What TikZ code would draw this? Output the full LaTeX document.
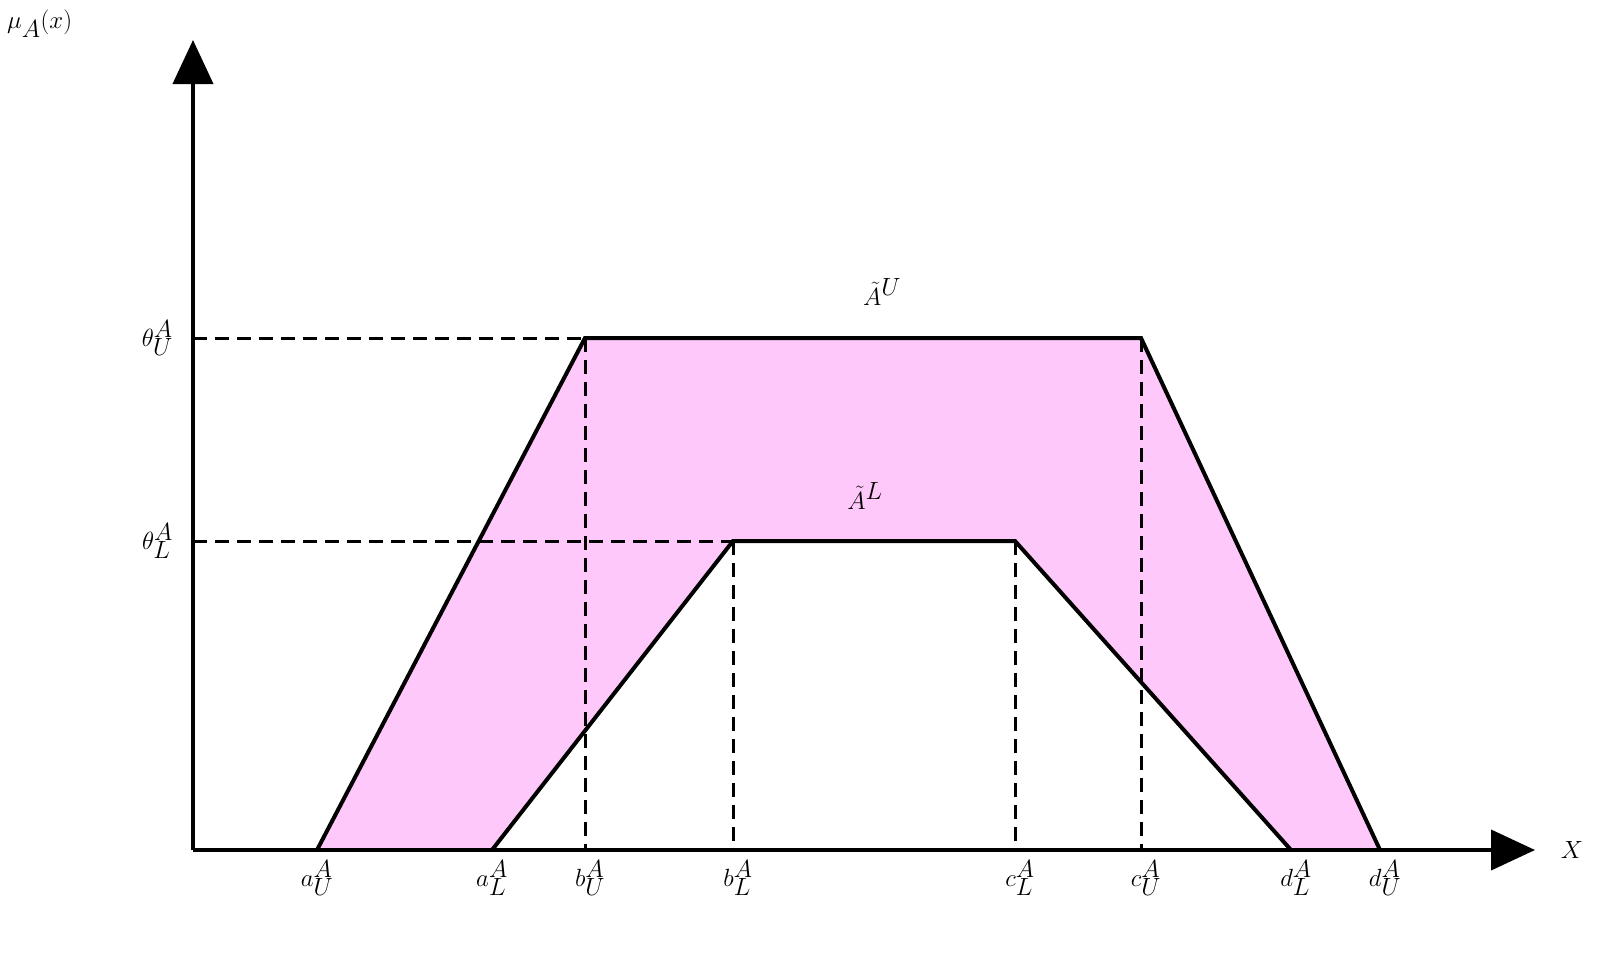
\documentclass[tikz,border=0pt]{standalone}
\usetikzlibrary{arrows.meta}
\begin{document}
\begin{tikzpicture}[x=1pt,y=-1pt,
  lbl/.style={font=\fontsize{40}{48}\selectfont, inner sep=2pt},
  dsh/.style={line width=3pt, dash pattern=on 14pt off 8pt},
  solid line/.style={line width=4pt, line join=miter}]
\useasboundingbox (0,0) rectangle (1606,953);
\coordinate (O) at (193,850);
\coordinate (yt) at (193,40);
\coordinate (xt) at (1535,850);
\coordinate (aU) at (317,850); \coordinate (aL) at (492,850);
\coordinate (bU) at (585,338); \coordinate (cU) at (1141,338);
\coordinate (dU) at (1380,850); \coordinate (dL) at (1291,850);
\coordinate (bL) at (733,541); \coordinate (cL) at (1015,541);
\coordinate (bUx) at (585,850); \coordinate (cUx) at (1141,850);
\coordinate (bLx) at (733,850); \coordinate (cLx) at (1015,850);
\coordinate (tU) at (193,338); \coordinate (tL) at (193,541);
\fill[fill={rgb,255:red,255;green,200;blue,250}] (aU)--(bU)--(cU)--(dU)--(dL)--(cL)--(bL)--(aL)--cycle;
\draw[dsh] (tU)--(bU); \draw[dsh] (tL)--(bL);
\draw[dsh] (bU)--(bUx); \draw[dsh] (cU)--(cUx);
\draw[dsh] (bL)--(bLx); \draw[dsh] (cL)--(cLx);
\draw[solid line] (aU)--(bU)--(cU)--(dU);
\draw[solid line] (aL)--(bL)--(cL)--(dL);
\draw[line width=4pt,-{Triangle[length=44pt,width=40pt]}] (O)--(xt);
\draw[line width=4pt,-{Triangle[length=44pt,width=40pt]}] (O)--(yt);
\node[lbl,anchor=north] (laU) at (317,858) {$a_U^A$};
\node[lbl,anchor=north] (laL) at (492,858) {$a_L^A$};
\node[lbl,anchor=north] (lbU) at (590,858) {$b_U^A$};
\node[lbl,anchor=north] (lbL) at (738,858) {$b_L^A$};
\node[lbl,anchor=north] (lcL) at (1020,858) {$c_L^A$};
\node[lbl,anchor=north] (lcU) at (1146,858) {$c_U^A$};
\node[lbl,anchor=north] (ldL) at (1296,858) {$d_L^A$};
\node[lbl,anchor=north] (ldU) at (1385,858) {$d_U^A$};
\node[lbl,anchor=east] (ltU) at (175,338) {$\theta_U^A$};
\node[lbl,anchor=east] (ltL) at (175,541) {$\theta_L^A$};
\node[lbl,anchor=north west] (mu) at (5,8) {$\mu_A(x)$};
\node[lbl] (X) at (1572,850) {$X$};
\node[lbl] (AU) at (882,292) {$\tilde A^U$};
\node[lbl] (AL) at (865,496) {$\tilde A^L$};
\end{tikzpicture}
\end{document}
